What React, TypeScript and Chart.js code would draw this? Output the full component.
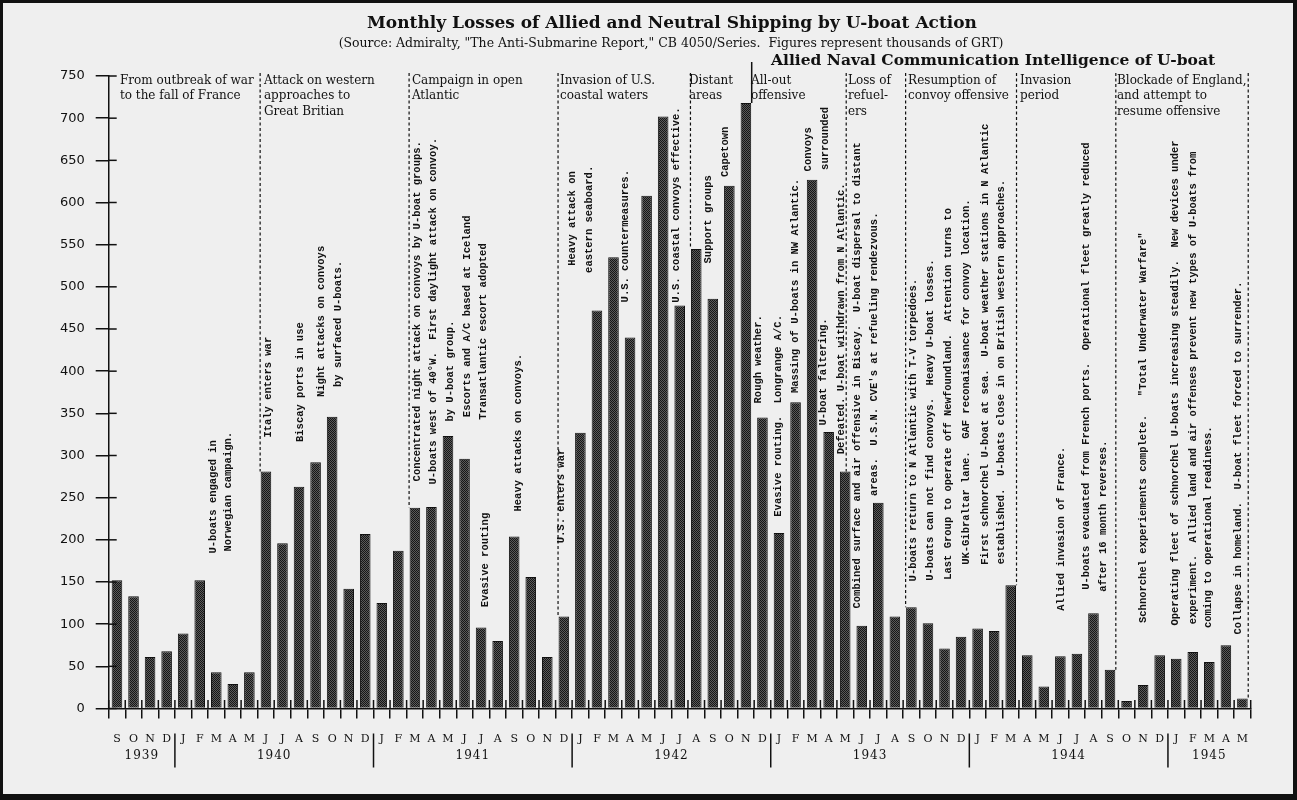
import { useEffect, useRef } from 'react';
import { Chart, registerables } from 'chart.js';

Chart.register(...registerables);

// ---------- data ----------
const months = [
  'S', 'O', 'N', 'D',
  'J', 'F', 'M', 'A', 'M', 'J', 'J', 'A', 'S', 'O', 'N', 'D',
  'J', 'F', 'M', 'A', 'M', 'J', 'J', 'A', 'S', 'O', 'N', 'D',
  'J', 'F', 'M', 'A', 'M', 'J', 'J', 'A', 'S', 'O', 'N', 'D',
  'J', 'F', 'M', 'A', 'M', 'J', 'J', 'A', 'S', 'O', 'N', 'D',
  'J', 'F', 'M', 'A', 'M', 'J', 'J', 'A', 'S', 'O', 'N', 'D',
  'J', 'F', 'M', 'A', 'M',
];

const years = ['1939', '1940', '1941', '1942', '1943', '1944', '1945'];
const yearFirstMonth = [0, 4, 16, 28, 40, 52, 64];

// thousands of GRT
const losses = [
  152, 133, 61, 68,
  89, 152, 43, 29, 43, 281, 196, 263, 292, 346, 142, 207,
  125, 187, 238, 239, 323, 296, 96, 80, 204, 156, 61, 109,
  327, 472, 535, 440, 608, 702, 478, 545, 486, 620, 718, 345,
  208, 363, 627, 328, 281, 98, 244, 109, 120, 101, 71, 85,
  95, 92, 146, 63, 26, 62, 65, 113, 46, 9, 28, 63,
  59, 67, 55, 75, 12,
];

const titleText = 'Monthly Losses of Allied and Neutral Shipping by U-boat Action';
const subtitleText =
  '(Source: Admiralty, "The Anti-Submarine Report," CB 4050/Series.  Figures represent thousands of GRT)';
const intelText = 'Allied Naval Communication Intelligence of U-boat';

// period headers: "at" = category position where the text starts
const periodHeaders = [
  { at: 0.18, lines: ['From outbreak of war', 'to the fall of France'] },
  { at: 8.88, lines: ['Attack on western', 'approaches to', 'Great Britian'] },
  { at: 17.82, lines: ['Campaign in open', 'Atlantic'] },
  { at: 26.77, lines: ['Invasion of U.S.', 'coastal waters'] },
  { at: 34.56, lines: ['Distant', 'areas'] },
  { at: 38.31, lines: ['All-out', 'offensive'] },
  { at: 44.17, lines: ['Loss of', 'refuel-', 'ers'] },
  { at: 47.8, lines: ['Resumption of', 'convoy offensive'] },
  { at: 54.56, lines: ['Invasion', 'period'] },
  { at: 60.42, lines: ['Blockade of England,', 'and attempt to', 'resume offensive'] },
];

// dotted period boundaries, attached to a bar
const periodBreaks = [
  { bar: 9, edge: 'left' },
  { bar: 18, edge: 'left' },
  { bar: 27, edge: 'left' },
  { bar: 35, edge: 'left' },
  { bar: 44, edge: 'center' },
  { bar: 48, edge: 'left' },
  { bar: 54, edge: 'right' },
  { bar: 60, edge: 'right' },
  { bar: 68, edge: 'right' },
];
const intelBreakBar = 38;

// vertical event notes: at = category position, value = centre height (thousand GRT)
const events = [
  { text: 'U-boats engaged in', at: 5.8, value: 251 },
  { text: 'Norwegian campaign.', at: 6.71, value: 257 },
  { text: 'Italy enters war', at: 9.13, value: 381 },
  { text: 'Biscay ports in use', at: 11.06, value: 387 },
  { text: 'Night attacks on convoys', at: 12.33, value: 459 },
  { text: 'by surfaced U-boats.', at: 13.35, value: 456 },
  { text: 'Concentrated night attack on convoys by U-boat groups.', at: 18.13, value: 471 },
  { text: 'U-boats west of 40°W.  First daylight attack on convoy.', at: 19.09, value: 471 },
  { text: 'by U-boat group.', at: 20.12, value: 400 },
  { text: 'Escorts and A/C based at Iceland', at: 21.15, value: 465 },
  { text: 'Transatlantic escort adopted', at: 22.11, value: 447 },
  { text: 'Evasive routing', at: 22.24, value: 176 },
  { text: 'Heavy attacks on convoys.', at: 24.23, value: 327 },
  { text: 'U.S. enters war', at: 26.83, value: 252 },
  { text: 'Heavy attack on', at: 27.49, value: 581 },
  { text: 'eastern seaboard.', at: 28.52, value: 580 },
  { text: 'U.S. countermeasures.', at: 30.7, value: 560 },
  { text: 'U.S. coastal convoys effective.', at: 33.82, value: 597 },
  { text: 'Support groups', at: 35.73, value: 580 },
  { text: 'Capetown', at: 36.74, value: 660 },
  { text: 'Rough weather.', at: 38.73, value: 414 },
  { text: 'Evasive routing.  Longrange A/C.', at: 39.94, value: 347 },
  { text: 'Massing of U-boats in NW Atlantic.', at: 40.97, value: 501 },
  { text: 'Convoys', at: 41.76, value: 663 },
  { text: 'surrounded', at: 42.8, value: 676 },
  { text: 'U-boat faltering.', at: 42.68, value: 399 },
  { text: 'Defeated. U-boat withdrawn from N Atlantic.', at: 43.75, value: 462 },
  { text: 'Combined surface and air offensive in Biscay.  U-boat dispersal to distant', at: 44.71, value: 395 },
  { text: "areas.  U.S.N. CVE's at refueling rendezvous.", at: 45.74, value: 420 },
  { text: 'U-boats return to N Atlantic with T-V torpedoes.', at: 48.11, value: 330 },
  { text: 'U-boats can not find convoys.  Heavy U-boat losses.', at: 49.13, value: 342 },
  { text: 'Last Group to operate off Newfoundland.  Attention turns to', at: 50.23, value: 373 },
  { text: 'UK-Gibraltar lane.  GAF reconaissance for convoy location.', at: 51.34, value: 387 },
  { text: 'First schnorchel U-boat at sea.  U-boat weather stations in N Atlantic', at: 52.45, value: 432 },
  { text: 'established.  U-boats close in on British western approaches.', at: 53.46, value: 399 },
  { text: 'Allied invasion of France.', at: 57.08, value: 213 },
  { text: 'U-boats evacuated from French ports.  Operational fleet greatly reduced', at: 58.59, value: 406 },
  { text: 'after 16 month reverses.', at: 59.59, value: 228 },
  { text: 'Schnorchel experiements complete.   "Total Underwater Warfare"', at: 62.01, value: 333 },
  { text: 'Operating fleet of schnorchel U-boats increasing steadily.  New devices under', at: 63.93, value: 386 },
  { text: 'experiment.  Allied land and air offenses prevent new types of U-boats from', at: 65.04, value: 380 },
  { text: 'coming to operational readiness.', at: 65.94, value: 215 },
  { text: 'Collapse in homeland.  U-boat fleet forced to surrender.', at: 67.75, value: 297 },
];

// ---------- styling helpers ----------
const INK = '#111111';
const PAPER = '#efefef';
const SERIF = '"DejaVu Serif", serif';
const MONO = '"Liberation Mono", "DejaVu Sans Mono", monospace';

function fitFont(ctx: CanvasRenderingContext2D, text: string, weight: string, family: string, width: number) {
  ctx.font = `${weight} 100px ${family}`;
  const w = ctx.measureText(text).width;
  const size = (100 * width) / w;
  return `${weight} ${size.toFixed(2)}px ${family}`;
}

function makePattern(ctx: CanvasRenderingContext2D) {
  const c = document.createElement('canvas');
  c.width = 2;
  c.height = 2;
  const g = c.getContext('2d')!;
  g.fillStyle = '#5a5a5a';
  g.fillRect(0, 0, 2, 2);
  g.fillStyle = '#161616';
  g.fillRect(0, 0, 1, 1);
  g.fillRect(1, 1, 1, 1);
  return ctx.createPattern(c, 'repeat')!;
}

const overlayPlugin = {
  id: 'overlay',
  beforeDraw(chart: any) {
    const { ctx, width, height } = chart;
    ctx.save();
    ctx.fillStyle = PAPER;
    ctx.fillRect(0, 0, width, height);
    ctx.restore();
  },
  afterDatasetsDraw(chart: any) {
    const { ctx, chartArea } = chart;
    const xs = chart.scales.x;
    const ys = chart.scales.y;
    const bars = chart.getDatasetMeta(0).data;
    ctx.save();

    // dotted period boundaries
    ctx.strokeStyle = INK;
    ctx.lineWidth = 1.2;
    ctx.setLineDash([3, 2.5]);
    for (const b of periodBreaks) {
      const el = bars[b.bar];
      let x = el.x;
      if (b.edge === 'left') x = el.x - el.width / 2 - 0.5;
      else if (b.edge === 'right') x = el.x + el.width / 2 + 0.5;
      else x = el.x + 1;
      ctx.beginPath();
      ctx.moveTo(x, chartArea.top - 3);
      ctx.lineTo(x, el.y);
      ctx.stroke();
    }
    ctx.setLineDash([]);

    // solid line marking intelligence period
    {
      const el = bars[intelBreakBar];
      const x = el.x + el.width / 2 + 0.5;
      ctx.lineWidth = 1.5;
      ctx.beginPath();
      ctx.moveTo(x, chartArea.top - 14);
      ctx.lineTo(x, el.y);
      ctx.stroke();
    }

    // period headers
    ctx.fillStyle = INK;
    ctx.font = `12px ${SERIF}`;
    ctx.textAlign = 'left';
    ctx.textBaseline = 'middle';
    for (const h of periodHeaders) {
      const x = xs.getPixelForValue(h.at);
      h.lines.forEach((line, i) => {
        ctx.fillText(line, x, chartArea.top + 4.5 + i * 15.5);
      });
    }

    // vertical event notes
    ctx.textAlign = 'center';
    ctx.textBaseline = 'middle';
    ctx.font = `bold 10.5px ${MONO}`;
    for (const e of events) {
      const x = xs.getPixelForValue(e.at);
      const y = ys.getPixelForValue(e.value);
      ctx.save();
      ctx.translate(x, y);
      ctx.rotate(-Math.PI / 2);
      ctx.fillText(e.text, 0, 0);
      ctx.restore();
    }
    ctx.restore();
  },
  afterDraw(chart: any) {
    const { ctx, chartArea, width, height } = chart;
    const xs = chart.scales.x;
    const ys = chart.scales.y;
    ctx.save();
    ctx.strokeStyle = INK;
    ctx.fillStyle = INK;
    ctx.lineWidth = 1.5;

    // upper halves of x ticks (month boundaries)
    for (let i = 0; i <= months.length; i++) {
      const x = xs.getPixelForValue(i - 0.5);
      ctx.beginPath();
      ctx.moveTo(x, chartArea.bottom - 8.5);
      ctx.lineTo(x, chartArea.bottom);
      ctx.stroke();
    }
    // right halves of y ticks
    for (const t of ys.ticks) {
      const y = ys.getPixelForValue(t.value);
      ctx.beginPath();
      ctx.moveTo(chartArea.left, y);
      ctx.lineTo(chartArea.left + 8, y);
      ctx.stroke();
    }

    // year separators and labels
    ctx.font = `12px ${SERIF}`;
    ctx.textAlign = 'center';
    ctx.textBaseline = 'middle';
    (ctx as any).letterSpacing = '1px';
    years.forEach((yr, k) => {
      const first = yearFirstMonth[k];
      const last = k + 1 < years.length ? yearFirstMonth[k + 1] - 1 : months.length - 1;
      if (k > 0) {
        const sx = xs.getPixelForValue(first - 0.5);
        ctx.beginPath();
        ctx.moveTo(sx, chartArea.bottom + 25);
        ctx.lineTo(sx, chartArea.bottom + 59);
        ctx.stroke();
      }
      const cx = (xs.getPixelForValue(first) + xs.getPixelForValue(last)) / 2;
      ctx.fillText(yr, cx, chartArea.bottom + 47);
    });
    (ctx as any).letterSpacing = '0px';

    // titles
    ctx.textAlign = 'center';
    ctx.font = fitFont(ctx, titleText, 'bold', SERIF, 610);
    ctx.fillText(titleText, 672, 24);
    ctx.font = fitFont(ctx, subtitleText, 'normal', SERIF, 665);
    ctx.fillText(subtitleText, 671, 44);
    ctx.textAlign = 'left';
    ctx.font = fitFont(ctx, intelText, 'bold', SERIF, 444);
    ctx.fillText(intelText, 771, 61);

    // frame
    ctx.fillStyle = INK;
    ctx.fillRect(0, 0, width, 3);
    ctx.fillRect(0, 0, 3, height);
    ctx.fillRect(width - 4, 0, 4, height);
    ctx.fillRect(0, height - 6, width, 6);
    ctx.restore();
  },
};

export default function App() {
  const ref = useRef<HTMLCanvasElement>(null);

  useEffect(() => {
    document.body.style.margin = '0';
    const canvas = ref.current!;
    const ctx = canvas.getContext('2d')!;
    const pattern = makePattern(ctx);

    const chart = new Chart(ctx, {
      type: 'bar',
      data: {
        labels: months,
        datasets: [
          {
            data: losses,
            backgroundColor: pattern,
            borderColor: INK,
            borderWidth: 1,
            barPercentage: 0.64,
            categoryPercentage: 1,
          },
        ],
      },
      options: {
        responsive: false,
        animation: false,
        devicePixelRatio: 1,
        layout: { padding: { left: 0, right: 46.3, top: 76, bottom: 0 } },
        plugins: {
          legend: { display: false },
          title: { display: false },
          tooltip: { enabled: false },
        },
        scales: {
          x: {
            type: 'category',
            offset: true,
            grid: {
              display: true,
              drawOnChartArea: false,
              drawTicks: true,
              tickLength: 10,
              color: INK,
              lineWidth: 1.5,
              offset: true,
            },
            border: { display: true, color: INK, width: 1.5 },
            ticks: {
              autoSkip: false,
              maxRotation: 0,
              minRotation: 0,
              padding: 14,
              color: INK,
              font: { family: SERIF, size: 11 },
            },
            afterFit: (s: any) => {
              s.height = 91.5;
            },
          },
          y: {
            min: 0,
            max: 750,
            ticks: {
              stepSize: 50,
              padding: 11,
              color: INK,
              font: { family: '"DejaVu Sans", sans-serif', size: 13 },
            },
            grid: {
              drawOnChartArea: false,
              drawTicks: true,
              tickLength: 13,
              color: INK,
              lineWidth: 1.5,
            },
            border: { display: true, color: INK, width: 1.5 },
            afterFit: (s: any) => {
              s.width = 108.7;
            },
          },
        },
      },
      plugins: [overlayPlugin],
    });

    return () => chart.destroy();
  }, []);

  return (
    <div style={{ width: 1297, height: 800 }}>
      <canvas ref={ref} width={1297} height={800} style={{ display: 'block' }} />
    </div>
  );
}
